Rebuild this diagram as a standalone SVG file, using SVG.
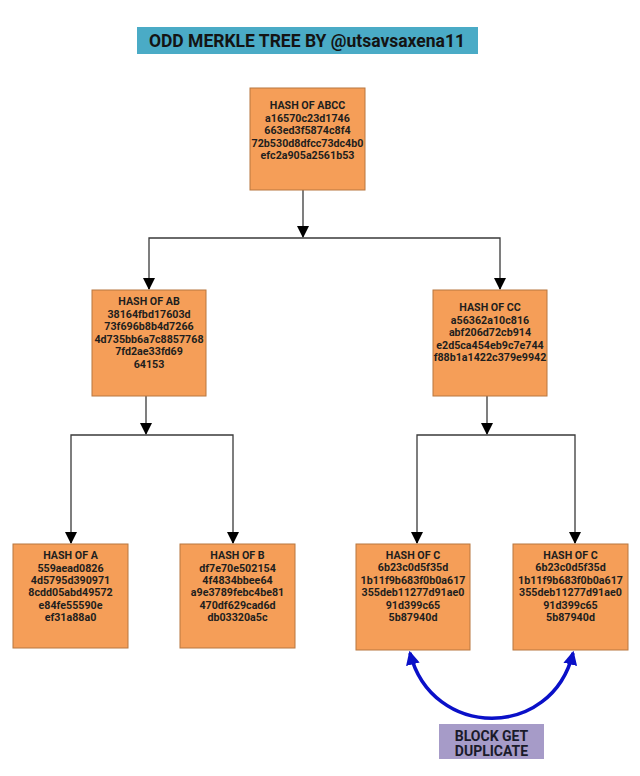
<svg xmlns="http://www.w3.org/2000/svg" width="640" height="776" viewBox="0 0 640 776">
<style>
.box{fill:#f59e58;stroke:#b8773f;stroke-width:1}
.t{font-family:Roboto,"Liberation Sans",sans-serif;font-weight:bold;font-size:10.7px;fill:#1e1e1e;text-anchor:middle}
.ln{fill:none;stroke:#3a3a3a;stroke-width:1.3}
.d{font-family:Roboto,"Liberation Sans",sans-serif;font-weight:bold;font-size:14px;fill:#1a1a2a;text-anchor:middle}
</style>
<defs>
<marker id="ah" markerWidth="12" markerHeight="12" viewBox="0 0 12 12" refX="11" refY="6" orient="auto" markerUnits="userSpaceOnUse">
<path d="M0,0 L12,6 L0,12 z" fill="#000"/>
</marker>
<marker id="bh" markerWidth="14" markerHeight="14" viewBox="0 0 12 12" refX="10" refY="6" orient="auto-start-reverse" markerUnits="userSpaceOnUse">
<path d="M0,0 L12,6 L0,12 z" fill="#0a10c8"/>
</marker>
</defs>
<rect width="640" height="776" fill="#fff"/>
<g id="title">
<rect x="137" y="27" width="341" height="27" fill="#4aabc6"/>
<text x="307" y="47" style="font-family:Roboto,'Liberation Sans',sans-serif;font-weight:bold;font-size:17.5px;fill:#141414;text-anchor:middle">ODD MERKLE TREE BY @utsavsaxena11</text>
</g>
<g id="connectors">
<path class="ln" d="M303,190 V237" marker-end="url(#ah)"/>
<path class="ln" d="M149,289 V238 H500 V289" />
<path class="ln" d="M149,278 V289" marker-end="url(#ah)"/>
<path class="ln" d="M500,278 V289" marker-end="url(#ah)"/>
<path class="ln" d="M146,396 V434" marker-end="url(#ah)"/>
<path class="ln" d="M71,543 V435 H233 V543"/>
<path class="ln" d="M71,532 V543" marker-end="url(#ah)"/>
<path class="ln" d="M233,532 V543" marker-end="url(#ah)"/>
<path class="ln" d="M487,396 V434" marker-end="url(#ah)"/>
<path class="ln" d="M417,543 V435 H575 V543"/>
<path class="ln" d="M417,532 V543" marker-end="url(#ah)"/>
<path class="ln" d="M575,532 V543" marker-end="url(#ah)"/>
<path d="M410,653 C432,740 552,740 573,653" fill="none" stroke="#0a10c8" stroke-width="3.5" marker-start="url(#bh)" marker-end="url(#bh)"/>
</g>
<g id="root">
<rect class="box" x="250" y="88" width="115" height="102"/>
<text class="t" x="307.5" y="109">HASH OF ABCC</text>
<text class="t" x="307.5" y="121.5">a16570c23d1746</text>
<text class="t" x="307.5" y="134">663ed3f5874c8f4</text>
<text class="t" x="307.5" y="146.5">72b530d8dfcc73dc4b0</text>
<text class="t" x="307.5" y="159">efc2a905a2561b53</text>
</g>
<g id="ab">
<rect class="box" x="92" y="290" width="114" height="106"/>
<text class="t" x="149" y="305">HASH OF AB</text>
<text class="t" x="149" y="317.5">38164fbd17603d</text>
<text class="t" x="149" y="330">73f696b8b4d7266</text>
<text class="t" x="149" y="342.5">4d735bb6a7c8857768</text>
<text class="t" x="149" y="355">7fd2ae33fd69</text>
<text class="t" x="149" y="367.5">64153</text>
</g>
<g id="cc">
<rect class="box" x="433" y="290" width="114" height="106"/>
<text class="t" x="490" y="311">HASH OF CC</text>
<text class="t" x="490" y="323.5">a56362a10c816</text>
<text class="t" x="490" y="336">abf206d72cb914</text>
<text class="t" x="490" y="348.5">e2d5ca454eb9c7e744</text>
<text class="t" x="490" y="361">f88b1a1422c379e9942</text>
</g>
<g id="a">
<rect class="box" x="13" y="544" width="115" height="104"/>
<text class="t" x="70.5" y="559">HASH OF A</text>
<text class="t" x="70.5" y="571.5">559aead0826</text>
<text class="t" x="70.5" y="584">4d5795d390971</text>
<text class="t" x="70.5" y="596">8cdd05abd49572</text>
<text class="t" x="70.5" y="608.5">e84fe55590e</text>
<text class="t" x="70.5" y="620.5">ef31a88a0</text>
</g>
<g id="b">
<rect class="box" x="180" y="544" width="115" height="104"/>
<text class="t" x="237.5" y="559">HASH OF B</text>
<text class="t" x="237.5" y="571.5">df7e70e502154</text>
<text class="t" x="237.5" y="584">4f4834bbee64</text>
<text class="t" x="237.5" y="596">a9e3789febc4be81</text>
<text class="t" x="237.5" y="608.5">470df629cad6d</text>
<text class="t" x="237.5" y="620.5">db03320a5c</text>
</g>
<g id="c1">
<rect class="box" x="356" y="544" width="114" height="106"/>
<text class="t" x="413" y="558.5">HASH OF C</text>
<text class="t" x="413" y="571">6b23c0d5f35d</text>
<text class="t" x="413" y="583.5">1b11f9b683f0b0a617</text>
<text class="t" x="413" y="596">355deb11277d91ae0</text>
<text class="t" x="413" y="608.5">91d399c65</text>
<text class="t" x="413" y="620.5">5b87940d</text>
</g>
<g id="c2">
<rect class="box" x="513" y="544" width="115" height="106"/>
<text class="t" x="570.5" y="558.5">HASH OF C</text>
<text class="t" x="570.5" y="571">6b23c0d5f35d</text>
<text class="t" x="570.5" y="583.5">1b11f9b683f0b0a617</text>
<text class="t" x="570.5" y="596">355deb11277d91ae0</text>
<text class="t" x="570.5" y="608.5">91d399c65</text>
<text class="t" x="570.5" y="620.5">5b87940d</text>
</g>
<g id="dup">
<rect x="439" y="724" width="105" height="35" fill="#a69bc8"/>
<text class="d" x="491.5" y="741">BLOCK GET</text>
<text class="d" x="491.5" y="756">DUPLICATE</text>
</g>
</svg>
